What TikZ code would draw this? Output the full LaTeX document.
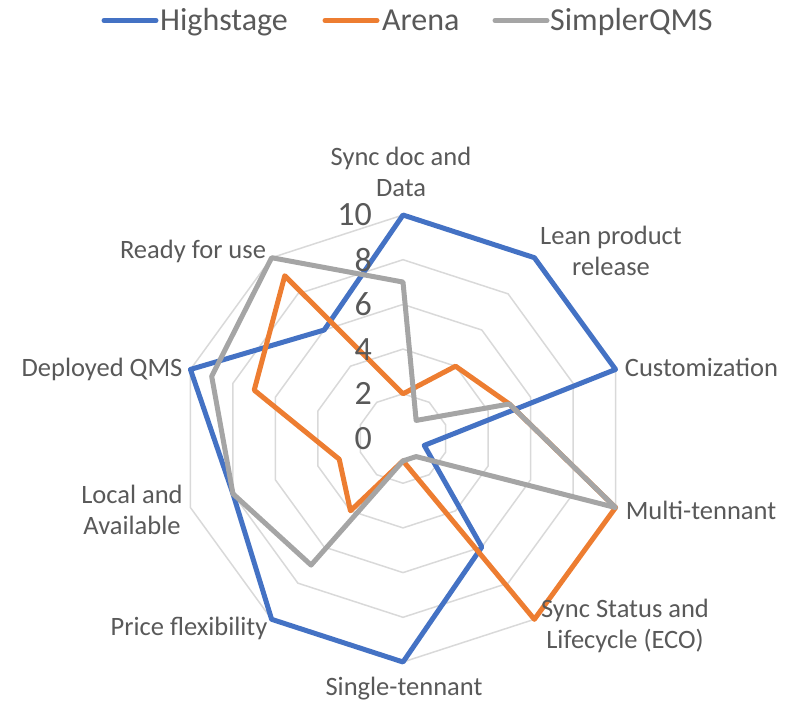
\documentclass[tikz,border=0pt]{standalone}
\usepackage{fontspec}
\setmainfont{Carlito}
\usepackage{tikz}
\usetikzlibrary{positioning}
\definecolor{hsblue}{HTML}{4472C4}
\definecolor{arorange}{HTML}{ED7D31}
\definecolor{sqgray}{HTML}{A5A5A5}
\definecolor{gridgray}{HTML}{D9D9D9}
\definecolor{txtgray}{HTML}{595959}
\newcommand\RadarUnit{22.35}

\begin{document}
\begin{tikzpicture}[x=1pt,y=1pt,
  axlbl/.style={font=\fontsize{26.5}{31}\selectfont,text=txtgray,inner sep=0,align=center},
  ticklbl/.style={font=\fontsize{34}{40}\selectfont,text=txtgray,inner sep=0,anchor=east},
  leglbl/.style={font=\fontsize{32}{38}\selectfont,text=txtgray,inner sep=0,anchor=base west},
  series/.style={line width=5,line join=round,line cap=round},
  gridline/.style={draw=gridgray,line width=1.5}]
\useasboundingbox (0,0) rectangle (787,-702);
\begin{scope}[shift={(403,-438.5)}]
% rings of the radar
\foreach \r in {2,4,...,10} {
  \draw[gridline] (90:{\r*\RadarUnit}) \foreach \k in {1,...,9} { -- ({90-36*\k}:{\r*\RadarUnit}) } -- cycle;
}
% data points
\foreach \s/\vals in {hs/{10,10,10,1,6,10,10,8,10,6},ar/{2,4,5,10,10,1,4,3,7,9},sq/{7,1,5,10,1,1,7,8,9,10}} {
  \foreach \v [count=\k from 0] in \vals
    \coordinate (\s\k) at ({90-36*\k}:{\v*\RadarUnit});
}
\foreach \s/\col in {hs/hsblue,ar/arorange,sq/sqgray}
  \draw[series,\col] (\s0) \foreach \k in {1,...,9} { -- (\s\k) } -- cycle;
\end{scope}
\foreach \t in {0,2,...,10}
  \node[ticklbl] (tick\t) at (372,{-438.5+\t*\RadarUnit}) {\t};
% category labels
\node[axlbl] (syncdoc) at (401,-172) {Sync doc and\\Data};
\node[axlbl] (lean) at (611,-251) {Lean product\\release};
\node[axlbl] (custom) at (701.5,-367) {Customization};
\node[axlbl] (multi) at (701,-510) {Multi-tennant};
\node[axlbl] (syncstat) at (625,-626) {Sync Status and\\Lifecycle (ECO)};
\node[axlbl] (single) at (404,-689) {Single-tennant};
\node[axlbl] (price) at (189,-628) {Price flexibility};
\node[axlbl] (local) at (132,-510) {Local and\\Available};
\node[axlbl] (deployed) at (102,-369) {Deployed QMS};
\node[axlbl] (ready) at (193,-251) {Ready for use};
% legend
\node[leglbl] (leghs) at (160,-30.5) {Highstage};
\node[leglbl] (legar) at (382,-30.5) {Arena};
\node[leglbl] (legsq) at (550,-30.5) {SimplerQMS};
\draw[series,hsblue] (104,-20.5) -- (156,-20.5);
\draw[series,arorange] (325,-20.5) -- (377,-20.5);
\draw[series,sqgray] (495,-20.5) -- (547,-20.5);
\end{tikzpicture}
\end{document}
